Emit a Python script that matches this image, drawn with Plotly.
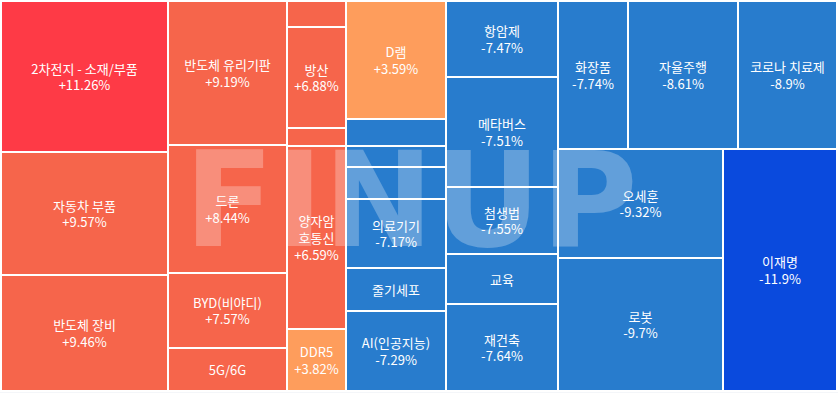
import plotly.graph_objects as go

# ---- data (areas, change % as labelled) ----
group_ids = ["col1", "col2", "col3", "col4", "col5", "right", "right_top", "right_bottom", "right_bottom_left"]
group_parents = ["", "", "", "", "", "", "right", "right", "right_bottom"]

leaf_ids = [
    "2차전지 - 소재/부품", "자동차 부품", "반도체 장비",
    "반도체 유리기판", "드론", "BYD(비야디)", "5G/6G",
    "기타A", "방산", "기타B", "양자암호통신", "DDR5",
    "D램", "기타C", "기타D", "기타E", "의료기기", "줄기세포", "AI(인공지능)",
    "항암제", "메타버스", "첨생법", "교육", "재건축",
    "화장품", "자율주행", "코로나 치료제",
    "오세훈", "로봇",
    "이재명",
]
leaf_parents = [
    "col1", "col1", "col1",
    "col2", "col2", "col2", "col2",
    "col3", "col3", "col3", "col3", "col3",
    "col4", "col4", "col4", "col4", "col4", "col4", "col4",
    "col5", "col5", "col5", "col5", "col5",
    "right_top", "right_top", "right_top",
    "right_bottom_left", "right_bottom_left",
    "right_bottom",
]
leaf_values = [
    25217, 20541, 19372,
    17136, 15232, 8925, 5117,
    1534, 5959, 1062, 10797, 3658,
    11800, 2700, 2100, 3200, 6900, 4300, 8000,
    8512, 12320, 7504, 5600, 9744,
    10360, 16280, 14652,
    17985, 21945,
    27588,
]
# None = percentage not shown in the picture
leaf_change = [
    11.26, 9.57, 9.46,
    9.19, 8.44, 7.57, None,
    None, 6.88, None, 6.59, 3.82,
    3.59, None, None, None, -7.17, None, -7.29,
    -7.47, -7.51, -7.55, None, -7.64,
    -7.74, -8.61, -8.9,
    -9.32, -9.7,
    -11.9,
]
# label shown on the tile ("" = too small to show)
leaf_display = [
    "2차전지 - 소재/부품", "자동차 부품", "반도체 장비",
    "반도체 유리기판", "드론", "BYD(비야디)", "5G/6G",
    "", "방산", "", "양자암<br>호통신", "DDR5",
    "D램", "", "", "", "의료기기", "줄기세포", "AI(인공지능)",
    "항암제", "메타버스", "첨생법", "교육", "재건축",
    "화장품", "자율주행", "코로나 치료제",
    "오세훈", "로봇",
    "이재명",
]

# ---- styles ----
RED, ORANGE, LIGHT, BLUE, DEEP = "#FE3A46", "#F6654B", "#FE9D5C", "#287CCD", "#0A4ADD"
leaf_colors = [
    RED, ORANGE, ORANGE,
    ORANGE, ORANGE, ORANGE, ORANGE,
    ORANGE, ORANGE, ORANGE, ORANGE, LIGHT,
    LIGHT, BLUE, BLUE, BLUE, BLUE, BLUE, BLUE,
    BLUE, BLUE, BLUE, BLUE, BLUE,
    BLUE, BLUE, BLUE,
    BLUE, BLUE,
    DEEP,
]


def fmt(v):
    if v is None:
        return ""
    return ("+" if v > 0 else "") + f"{v:g}%"


texts = []
for name, ch in zip(leaf_display, leaf_change):
    if not name:
        texts.append("")
    elif ch is None:
        texts.append(name)
    else:
        texts.append(f"{name}<br>{fmt(ch)}")

ids = group_ids + leaf_ids
parents = group_parents + leaf_parents
values = [0] * len(group_ids) + leaf_values
colors = ["#FFFFFF"] * len(group_ids) + leaf_colors
text = [""] * len(group_ids) + texts

fig = go.Figure(go.Treemap(
    ids=ids,
    labels=ids,
    parents=parents,
    values=values,
    branchvalues="remainder",
    sort=False,
    tiling=dict(packing="slice-dice", pad=0),
    marker=dict(colors=colors, line=dict(color="#FFFFFF", width=2),
                pad=dict(t=0, l=0, r=0, b=0), depthfade=False),
    text=text,
    texttemplate="%{text}",
    textposition="middle center",
    textfont=dict(family="Noto Sans CJK KR", size=13, color="#FFFFFF"),
    pathbar=dict(visible=False),
    hoverinfo="skip",
))

fig.add_annotation(
    x=0.49, y=0.489, xref="paper", yref="paper",
    text="<b>FINUP</b>", showarrow=False,
    font=dict(family="DejaVu Sans", size=132, color="rgba(255,255,255,0.27)"),
)
fig.add_shape(type="rect", xref="paper", yref="paper", x0=-0.01, x1=1.01,
              y0=-0.02, y1=-0.003, fillcolor="#F1F3F7", line_width=0, layer="below")

fig.update_layout(
    width=838, height=393,
    margin=dict(l=1, r=1, t=1, b=2),
    paper_bgcolor="#FFFFFF",
    hovermode=False,
)
fig.write_html("out.html",
               config={"displayModeBar": False, "staticPlot": True},
               post_script="document.body.style.margin='0';document.body.style.overflow='hidden';")
